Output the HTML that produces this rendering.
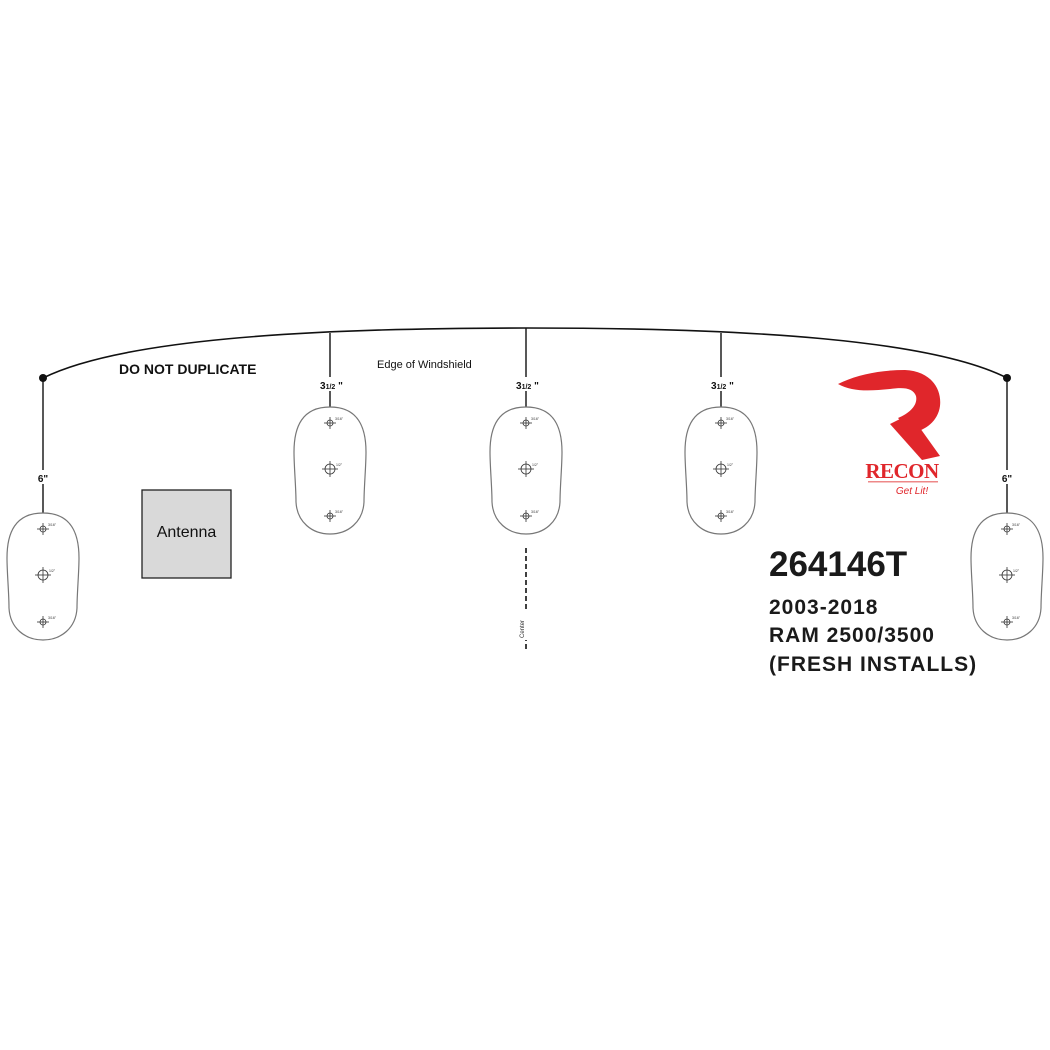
<!DOCTYPE html>
<html><head><meta charset="utf-8"><style>
html,body{margin:0;padding:0;background:#fff;}
svg{display:block;}
</style></head><body>
<svg width="1050" height="1050" viewBox="0 0 1050 1050" xmlns="http://www.w3.org/2000/svg" font-family="Liberation Sans, sans-serif">
<defs>
<g id="pod">
<path d="M0,0 C28,0 36,20 36,45 C36,60 34,80 34,95 C33,115 18,127 0,127 C-18,127 -33,115 -34,95 C-34,80 -36,60 -36,45 C-36,20 -28,0 0,0 Z" fill="#fff" stroke="#777" stroke-width="1.2"/>
<g stroke="#333" stroke-width="0.8" fill="none">
<circle cx="0" cy="16" r="3"/><line x1="-6" y1="16" x2="6" y2="16"/><line x1="0" y1="10" x2="0" y2="22"/>
<circle cx="0" cy="62" r="5"/><line x1="-8" y1="62" x2="8" y2="62"/><line x1="0" y1="54" x2="0" y2="70"/>
<circle cx="0" cy="109" r="3"/><line x1="-6" y1="109" x2="6" y2="109"/><line x1="0" y1="103" x2="0" y2="115"/>
</g>
<text x="5" y="13" font-size="3.5" fill="#333">3/16"</text>
<text x="6" y="59" font-size="3.5" fill="#333">1/2"</text>
<text x="5" y="106" font-size="3.5" fill="#333">3/16"</text>
</g>
</defs>

<path d="M43,378 C120,340 300,328 526,328 C752,328 932,340 1007,378" fill="none" stroke="#111" stroke-width="1.6"/>
<circle cx="43" cy="378" r="4" fill="#111"/>
<circle cx="1007" cy="378" r="4" fill="#111"/>

<g stroke="#111" stroke-width="1.4">
<line x1="43" y1="378" x2="43" y2="514"/>
<line x1="1007" y1="378" x2="1007" y2="514"/>
<line x1="330" y1="333" x2="330" y2="407"/>
<line x1="526" y1="328" x2="526" y2="407"/>
<line x1="721" y1="333" x2="721" y2="407"/>
</g>
<line x1="526" y1="548" x2="526" y2="652" stroke="#111" stroke-width="1.6" stroke-dasharray="5,3"/>

<g font-weight="bold" font-size="10" fill="#111" text-anchor="middle">
<rect x="34" y="470" width="18" height="14" fill="#fff"/>
<text x="43" y="482">6"</text>
<rect x="998" y="470" width="18" height="14" fill="#fff"/>
<text x="1007" y="482">6"</text>
</g>
<g font-weight="bold" fill="#111">
<rect x="314" y="377" width="32" height="14" fill="#fff"/>
<text x="320" y="389" font-size="10">3<tspan font-size="7">1/2</tspan> "</text>
<rect x="510" y="377" width="32" height="14" fill="#fff"/>
<text x="516" y="389" font-size="10">3<tspan font-size="7">1/2</tspan> "</text>
<rect x="705" y="377" width="32" height="14" fill="#fff"/>
<text x="711" y="389" font-size="10">3<tspan font-size="7">1/2</tspan> "</text>
</g>

<use href="#pod" x="43" y="513"/>
<use href="#pod" x="1007" y="513"/>
<use href="#pod" x="330" y="407"/>
<use href="#pod" x="526" y="407"/>
<use href="#pod" x="721" y="407"/>

<rect x="142" y="490" width="89" height="88" fill="#d9d9d9" stroke="#222" stroke-width="1.3"/>
<text x="186.5" y="537" font-size="16" text-anchor="middle" fill="#111">Antenna</text>

<rect x="520" y="612" width="12" height="28" fill="#fff"/>
<text transform="translate(524,638) rotate(-90)" font-size="6" fill="#333">Center</text>

<text x="119" y="374" font-size="14" font-weight="bold" fill="#111">DO NOT DUPLICATE</text>
<text x="377" y="368" font-size="11" fill="#111">Edge of Windshield</text>

<text x="769" y="576" font-size="35" font-weight="bold" fill="#1a1a1a">264146T</text>
<g font-size="21" font-weight="bold" fill="#1a1a1a" letter-spacing="1">
<text x="769" y="614">2003-2018</text>
<text x="769" y="642">RAM 2500/3500</text>
<text x="769" y="671">(FRESH INSTALLS)</text>
</g>

<g fill="#e0262b">
<path d="M838,384 C858,374 882,370 905,370 C930,371 942,388 940,406 C938,421 926,430 912,433 L898,418 C910,413 918,405 916,396 C913,388 904,387 890,389 C870,391 852,392 838,384 Z"/>
<path d="M890,424 L910,414 L940,456 L922,460 Z"/>
<text x="902" y="478" font-family="Liberation Serif, serif" font-weight="bold" font-size="21" text-anchor="middle" letter-spacing="-0.5">RECON</text>
<rect x="868" y="481" width="70" height="1.5" fill="#e88"/>
<text x="912" y="494" font-size="10" font-style="italic" text-anchor="middle">Get Lit!</text>
</g>
</svg>
</body></html>
